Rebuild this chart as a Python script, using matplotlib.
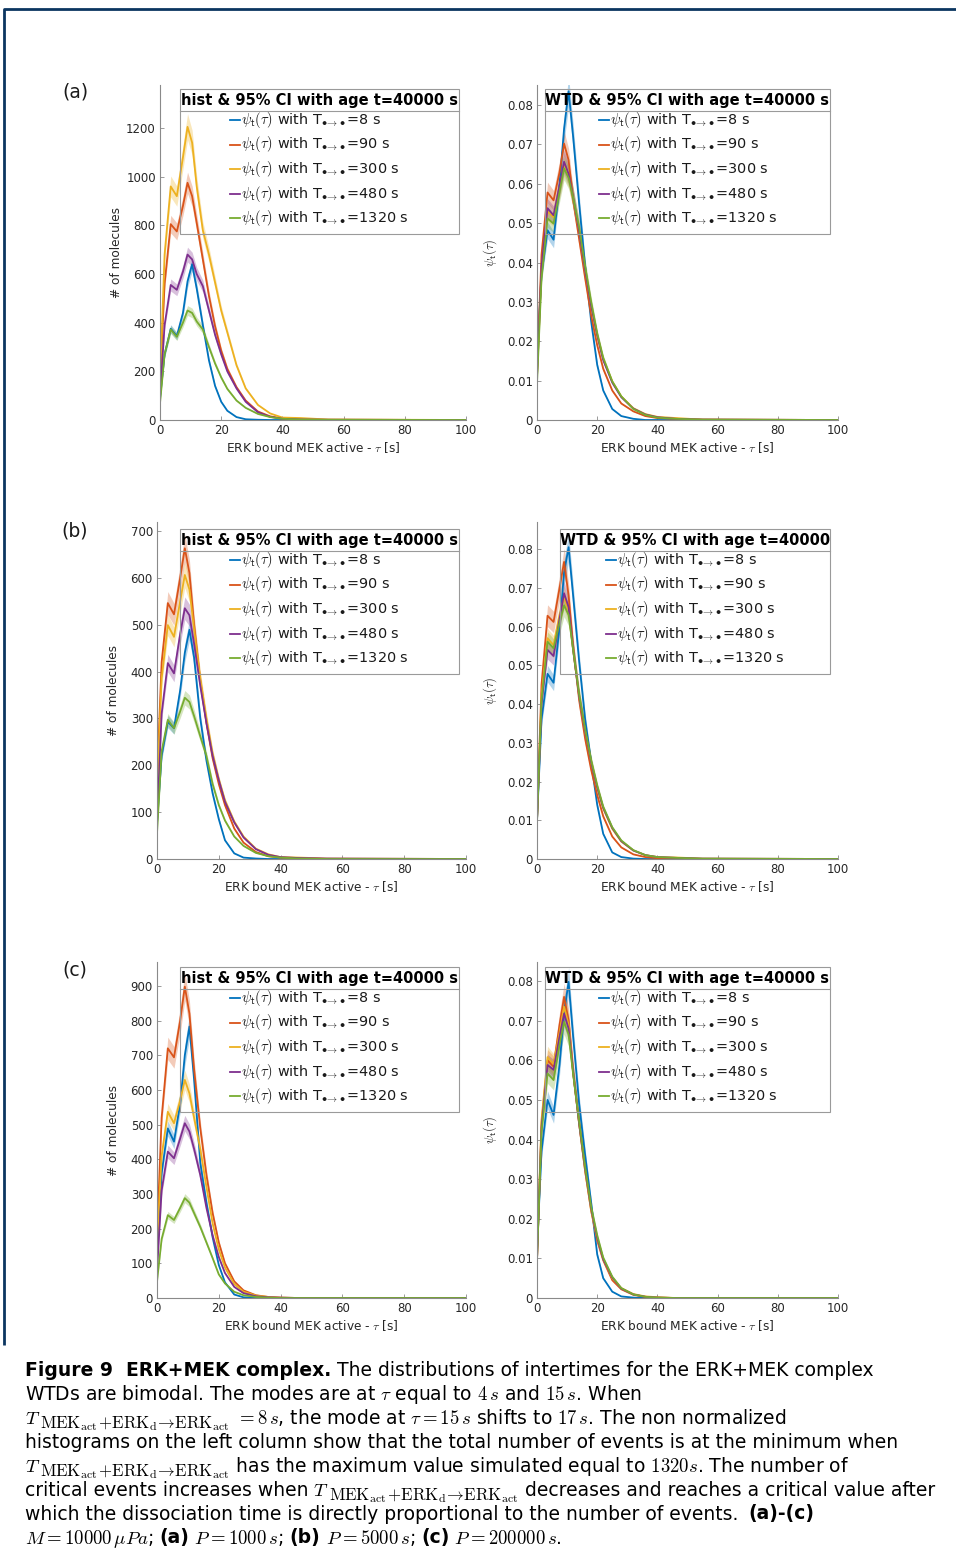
import matplotlib
matplotlib.use("Agg")
import matplotlib.pyplot as plt
from matplotlib.patches import Rectangle
from matplotlib.ticker import FuncFormatter

plt.rcParams["mathtext.fontset"] = "cm"
plt.rcParams["font.family"] = ["DejaVu Sans"]

TAU = [0, 1.5, 3.5, 5.5, 7.5, 9, 10.5, 12, 14, 16, 18, 20, 22, 25, 28, 32, 36, 40, 46, 55, 100]
T_VALUES = ["8", "90", "300", "480", "1320"]
COLORS = ["#0072BD", "#D95319", "#EDB120", "#7E2F8E", "#77AC30"]

# (a) P = 1000 s  -- histograms (# of molecules), order: 8, 90, 300, 480, 1320 s
A_HIST = [
    [89, 270, 375, 345, 440, 570, 640, 540, 390, 245, 140, 75, 38, 12, 3, 1, 0, 0, 0, 0, 0],
    [152, 560, 805, 775, 880, 975, 920, 810, 660, 510, 385, 285, 210, 135, 80, 35, 15, 6, 3, 1, 0],
    [152, 680, 960, 920, 1080, 1205, 1140, 960, 780, 680, 565, 450, 360, 225, 130, 62, 27, 10, 8, 2, 0],
    [96, 390, 555, 535, 610, 680, 660, 600, 550, 450, 350, 270, 200, 130, 75, 32, 13, 5, 2, 1, 0],
    [69, 270, 372, 342, 400, 450, 440, 405, 372, 300, 232, 175, 128, 80, 50, 25, 12, 5, 2, 1, 0],
]
A_WTD = [
    [0.016, 0.037, 0.0482, 0.0458, 0.060, 0.074, 0.0835, 0.072, 0.055, 0.039, 0.025, 0.014, 0.0075, 0.0028, 0.0010, 0.0003, 0, 0, 0, 0, 0],
    [0.012, 0.042, 0.0578, 0.0558, 0.063, 0.0702, 0.066, 0.056, 0.046, 0.036, 0.0265, 0.019, 0.013, 0.0075, 0.0042, 0.0022, 0.001, 0.0005, 0.0003, 0.0001, 0],
    [0.011, 0.038, 0.053, 0.0515, 0.059, 0.0648, 0.062, 0.056, 0.048, 0.038, 0.029, 0.0215, 0.0155, 0.0098, 0.006, 0.003, 0.0015, 0.0008, 0.0005, 0.0001, 0],
    [0.011, 0.039, 0.0538, 0.052, 0.0595, 0.0656, 0.0625, 0.0565, 0.048, 0.038, 0.029, 0.0215, 0.0152, 0.0095, 0.0058, 0.0029, 0.0014, 0.0007, 0.0003, 0.0001, 0],
    [0.0093, 0.036, 0.0512, 0.0499, 0.058, 0.0639, 0.0615, 0.0565, 0.049, 0.039, 0.030, 0.022, 0.0158, 0.0098, 0.006, 0.0028, 0.0013, 0.0006, 0.0003, 0.0001, 0],
]

# (b) P = 5000 s
B_HIST = [
    [76, 220, 293, 279, 360, 440, 489, 430, 300, 210, 140, 85, 40, 12, 3, 1, 0, 0, 0, 0, 0],
    [169, 420, 546, 522, 600, 663, 610, 500, 380, 290, 215, 160, 115, 65, 35, 15, 6, 3, 2, 0, 0],
    [150, 385, 499, 474, 550, 606, 575, 490, 385, 300, 225, 170, 125, 80, 48, 22, 10, 4, 3, 1, 0],
    [76, 310, 418, 396, 480, 535, 520, 460, 370, 290, 220, 168, 122, 78, 46, 21, 9, 4, 2, 1, 0],
    [55, 230, 297, 279, 315, 344, 335, 305, 262, 220, 160, 115, 82, 48, 28, 13, 6, 3, 1, 0, 0],
]
B_WTD = [
    [0.010, 0.036, 0.0478, 0.0455, 0.060, 0.074, 0.0805, 0.068, 0.051, 0.036, 0.025, 0.014, 0.0065, 0.0017, 0.0005, 0.0001, 0, 0, 0, 0, 0],
    [0.010, 0.045, 0.0628, 0.0612, 0.070, 0.0767, 0.068, 0.055, 0.041, 0.031, 0.023, 0.0165, 0.011, 0.0058, 0.003, 0.0012, 0.0005, 0.0002, 0.0002, 0, 0],
    [0.010, 0.042, 0.057, 0.0552, 0.063, 0.0675, 0.064, 0.054, 0.042, 0.033, 0.025, 0.0185, 0.013, 0.0078, 0.0045, 0.0022, 0.001, 0.0005, 0.0004, 0.0001, 0],
    [0.010, 0.040, 0.054, 0.0524, 0.062, 0.0686, 0.065, 0.054, 0.042, 0.033, 0.025, 0.0185, 0.0132, 0.008, 0.0046, 0.0022, 0.001, 0.0005, 0.0003, 0.0001, 0],
    [0.0095, 0.041, 0.0561, 0.0544, 0.061, 0.0655, 0.063, 0.054, 0.0425, 0.0335, 0.0255, 0.019, 0.0135, 0.0082, 0.0048, 0.0023, 0.001, 0.0005, 0.0003, 0.0001, 0],
]

# (c) P = 200000 s
C_HIST = [
    [120, 360, 489, 451, 560, 700, 783, 630, 390, 275, 175, 95, 45, 10, 2, 0, 0, 0, 0, 0, 0],
    [177, 520, 720, 694, 800, 898, 820, 660, 490, 355, 245, 160, 100, 48, 22, 8, 3, 1, 0, 0, 0],
    [150, 410, 537, 504, 570, 629, 590, 520, 430, 320, 215, 140, 88, 40, 18, 7, 3, 1, 0, 0, 0],
    [76, 310, 422, 403, 460, 504, 480, 430, 355, 260, 180, 118, 72, 32, 14, 5, 2, 1, 0, 0, 0],
    [47, 170, 239, 225, 260, 288, 275, 245, 205, 160, 115, 68, 42, 18, 8, 3, 1, 0, 0, 0, 0],
]
C_WTD = [
    [0.0122, 0.037, 0.050, 0.0462, 0.059, 0.072, 0.0798, 0.066, 0.049, 0.036, 0.024, 0.011, 0.005, 0.0016, 0.0004, 0.0001, 0, 0, 0, 0, 0],
    [0.0096, 0.044, 0.060, 0.0584, 0.069, 0.076, 0.070, 0.057, 0.044, 0.032, 0.022, 0.0145, 0.0095, 0.0045, 0.0022, 0.0008, 0.0003, 0.0001, 0, 0, 0],
    [0.0096, 0.045, 0.0608, 0.059, 0.067, 0.0735, 0.069, 0.057, 0.044, 0.032, 0.022, 0.015, 0.0098, 0.005, 0.0025, 0.001, 0.0004, 0.0002, 0, 0, 0],
    [0.0096, 0.043, 0.0588, 0.0576, 0.066, 0.0718, 0.068, 0.057, 0.044, 0.0325, 0.0225, 0.0152, 0.0098, 0.0052, 0.0024, 0.0009, 0.0003, 0.0001, 0, 0, 0],
    [0.0096, 0.042, 0.0567, 0.055, 0.064, 0.0697, 0.0665, 0.0565, 0.0445, 0.033, 0.023, 0.0158, 0.0102, 0.0054, 0.0025, 0.0009, 0.0003, 0.0001, 0, 0, 0],
]
CI_FRAC = 0.045  # half width of the 95% CI band relative to the curve

W, H = 956, 1560
fig = plt.figure(figsize=(W / 100, H / 100), dpi=100)


def px_axes(x0, y0, x1, y1):
    return fig.add_axes([x0 / W, 1 - y1 / H, (x1 - x0) / W, (y1 - y0) / H])


def style_axes(ax, ymax, yticks, ylabel, wtd):
    ax.set_xlim(0, 100)
    ax.set_ylim(0, ymax)
    ax.set_xticks([0, 20, 40, 60, 80, 100])
    ax.set_yticks(yticks)
    if wtd:
        ax.yaxis.set_major_formatter(FuncFormatter(lambda v, p: "0" if v == 0 else f"{v:.2f}"))
    for s in ["top", "right"]:
        ax.spines[s].set_visible(False)
    for s in ["left", "bottom"]:
        ax.spines[s].set_color("#8a8a8a")
        ax.spines[s].set_linewidth(0.8)
    ax.tick_params(direction="in", length=3, width=0.6, color="#8a8a8a",
                   labelsize=8.5, labelcolor="#262626", pad=3)
    ax.set_xlabel(r"ERK bound MEK active - $\tau$ [s]", fontsize=8.7, color="#262626", labelpad=2)
    ax.set_ylabel(ylabel, fontsize=9.2 if wtd else 8.7, color="#262626")
    ax.patch.set_alpha(0)


def draw_curves(ax, series):
    for vals, c in zip(series, COLORS):
        lo = [v * (1 - CI_FRAC) for v in vals]
        hi = [v * (1 + CI_FRAC) for v in vals]
        ax.fill_between(TAU, lo, hi, color=c, alpha=0.3, lw=0)
        ax.plot(TAU, vals, color=c, lw=1.3)


panels = [
    (A_HIST, A_WTD, (160, 85, 466, 420), (537, 85, 838, 420), 1377, 0.0851, range(0, 1201, 200)),
    (B_HIST, B_WTD, (157, 522, 466, 859), (537, 522, 838, 859), 719, 0.087, range(0, 701, 100)),
    (C_HIST, C_WTD, (157, 962, 466, 1298), (537, 962, 838, 1298), 969, 0.0848, range(0, 901, 100)),
]
wtd_ticks = [0, 0.01, 0.02, 0.03, 0.04, 0.05, 0.06, 0.07, 0.08]

for hist, wtd, lbox, rbox, ymax_l, ymax_r, lticks in panels:
    axl = px_axes(*lbox)
    draw_curves(axl, hist)
    style_axes(axl, ymax_l, list(lticks), "# of molecules", False)
    axl.yaxis.set_label_coords(-37 / (lbox[2] - lbox[0]), 0.5)

    axr = px_axes(*rbox)
    draw_curves(axr, wtd)
    style_axes(axr, ymax_r, wtd_ticks, r"$\psi_\mathsf{t}(\tau)$", True)
    axr.yaxis.set_label_coords(-38 / (rbox[2] - rbox[0]), 0.5)

# overlay in pixel coordinates for legends, labels, frame and caption
ov = fig.add_axes([0, 0, 1, 1], zorder=10)
ov.set_xlim(0, W)
ov.set_ylim(H, 0)
ov.axis("off")
ov.patch.set_alpha(0)

# frame
ov.plot([4.5, 4.5, W], [1345, 9, 9], color="#0b3560", lw=2, solid_capstyle="butt")

for lab, y in zip(["(a)", "(b)", "(c)"], [92, 531, 970]):
    ov.text(75, y, lab, fontsize=13.5, ha="center", va="center", color="#1a1a1a")


def draw_legend(x0, x1, y0, title, line_x):
    y1 = y0 + 145
    ov.add_patch(Rectangle((x0, y0), x1 - x0, y1 - y0, fill=False, ec="#9a9a9a", lw=0.8))
    ov.plot([x0, x1], [y0 + 22, y0 + 22], color="#9a9a9a", lw=0.8)
    ov.text((x0 + x1) / 2, y0 + 11.5, title, fontsize=10.5, fontweight="bold",
            ha="center", va="center", color="black")
    for i, (t, c) in enumerate(zip(T_VALUES, COLORS)):
        y = y0 + 31 + 24.5 * i
        ov.plot([line_x, line_x + 10], [y, y], color=c, lw=1.3)
        ov.text(line_x + 11, y, r"$\psi_\mathsf{t}(\tau)$ with T$_{\bullet\!\rightarrow\!\bullet}$=" + t + " s",
                fontsize=10.4, ha="left", va="center", color="#1a1a1a")


hist_title = "hist & 95% CI with age t=40000 s"
draw_legend(180, 459, 89, hist_title, 230)
draw_legend(545, 830, 89, "WTD & 95% CI with age t=40000 s", 599)
draw_legend(180, 459, 529, hist_title, 230)
draw_legend(560, 830, 529, "WTD & 95% CI with age t=40000", 606)
draw_legend(180, 459, 967, hist_title, 230)
draw_legend(545, 830, 967, "WTD & 95% CI with age t=40000 s", 599)

# caption; 'n' normal, 'b' bold, 's' large subscript of T
CAP_FONT = ["DejaVu Sans"]
CAP_SIZE = 13.5
SUB = r"$\mathrm{MEK}_{\mathrm{act}}\!+\!\mathrm{ERK}_{\mathrm{d}}\!\rightarrow\!\mathrm{ERK}_{\mathrm{act}}$"
caption = [
    [("Figure 9  ERK+MEK complex.", "b"), (" The distributions of intertimes for the ERK+MEK complex", "n")],
    [(r"WTDs are bimodal. The modes are at $\tau$ equal to $4\,s$ and $15\,s$. When", "n")],
    [(r"$T$", "n"), (SUB, "s"), (r" $=8\,s$, the mode at $\tau=15\,s$ shifts to $17\,s$. The non normalized", "n")],
    [("histograms on the left column show that the total number of events is at the minimum when", "n")],
    [(r"$T$", "n"), (SUB, "s"), (r" has the maximum value simulated equal to $1320s$. The number of", "n")],
    [("critical events increases when", "n"), (r"$\ T$", "n"), (SUB, "s"),
     (" decreases and reaches a critical value after", "n")],
    [("which the dissociation time is directly proportional to the number of events. ", "n"), ("(a)-(c)", "b")],
    [(r"$M=10000\,\mu Pa$; ", "n"), ("(a)", "b"), (r" $P=1000\,s$; ", "n"), ("(b)", "b"),
     (r" $P=5000\,s$; ", "n"), ("(c)", "b"), (r" $P=200000\,s$.", "n")],
]
renderer = fig.canvas.get_renderer()
for i, segs in enumerate(caption):
    x = 25
    y = 1368 + 24 * i
    for txt, kind in segs:
        size = CAP_SIZE * 0.9 if kind == "s" else CAP_SIZE
        dy = 5.5 if kind == "s" else 0
        t = ov.text(x, y + dy, txt, fontsize=size, family=CAP_FONT,
                    fontweight="bold" if kind == "b" else "normal", ha="left",
                    va="center_baseline", color="black")
        x += t.get_window_extent(renderer).width
        if txt.endswith(" "):
            x += 4

fig.savefig("out.png", dpi=100)
